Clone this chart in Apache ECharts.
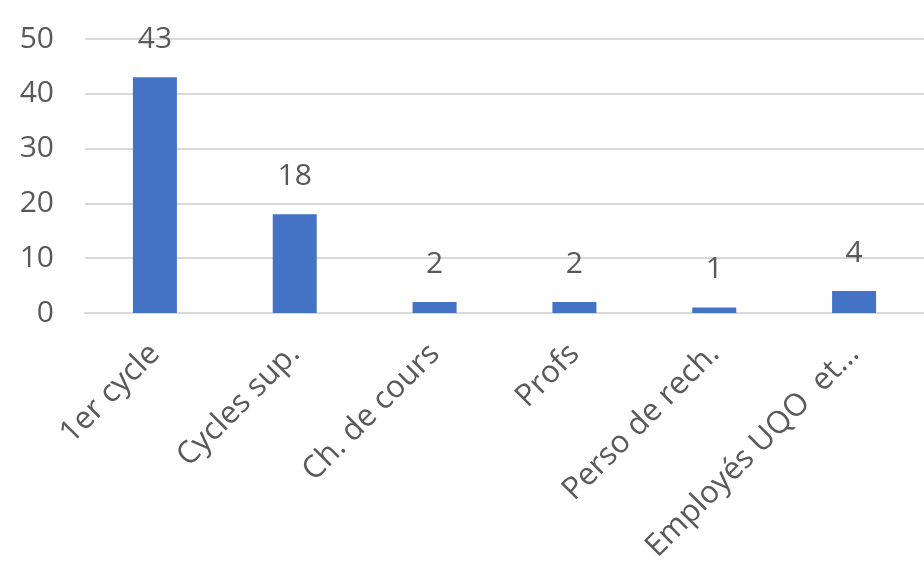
<!DOCTYPE html>
<html>
<head>
<meta charset="utf-8">
<script src="https://cdn.jsdelivr.net/npm/echarts@6/dist/echarts.min.js"></script>
<style>
  html, body { margin: 0; padding: 0; background: #ffffff; }
  #chart { width: 924px; height: 565px; }
</style>
</head>
<body>
<div id="chart"></div>
<script>
// Respondents by group
const categories = ['1er cycle', 'Cycles sup.', 'Ch. de cours', 'Profs', 'Perso de rech.', 'Employés UQO  et...'];
const counts = [43, 18, 2, 2, 1, 4];
const yTicks = { min: 0, max: 50, interval: 10 };

const textColor = '#595959';
const fontFamily = '"Open Sans", "Liberation Sans", sans-serif';

const chart = echarts.init(document.getElementById('chart'), null, { renderer: 'canvas' });
chart.setOption({
  animation: false,
  backgroundColor: '#ffffff',
  grid: { left: 85, right: 0, top: 39, bottom: 251, containLabel: false },
  xAxis: {
    type: 'category',
    data: categories,
    axisLine: { show: true, lineStyle: { color: '#d9d9d9', width: 2 } },
    axisTick: { show: false },
    axisLabel: {
      rotate: 45,
      margin: 36,
      interval: 0,
      color: textColor,
      fontSize: 31,
      fontFamily: fontFamily
    }
  },
  yAxis: {
    type: 'value',
    min: yTicks.min,
    max: yTicks.max,
    interval: yTicks.interval,
    axisLine: { show: false },
    axisTick: { show: false },
    splitLine: { lineStyle: { color: '#d9d9d9', width: 2 } },
    axisLabel: {
      margin: 31,
      color: textColor,
      fontSize: 30,
      fontFamily: fontFamily
    }
  },
  series: [{
    type: 'bar',
    data: counts,
    barWidth: 44,
    itemStyle: { color: '#4472c4' },
    label: {
      show: true,
      position: 'top',
      distance: 23,
      color: textColor,
      fontSize: 30,
      fontFamily: fontFamily
    }
  }]
});
</script>
</body>
</html>
